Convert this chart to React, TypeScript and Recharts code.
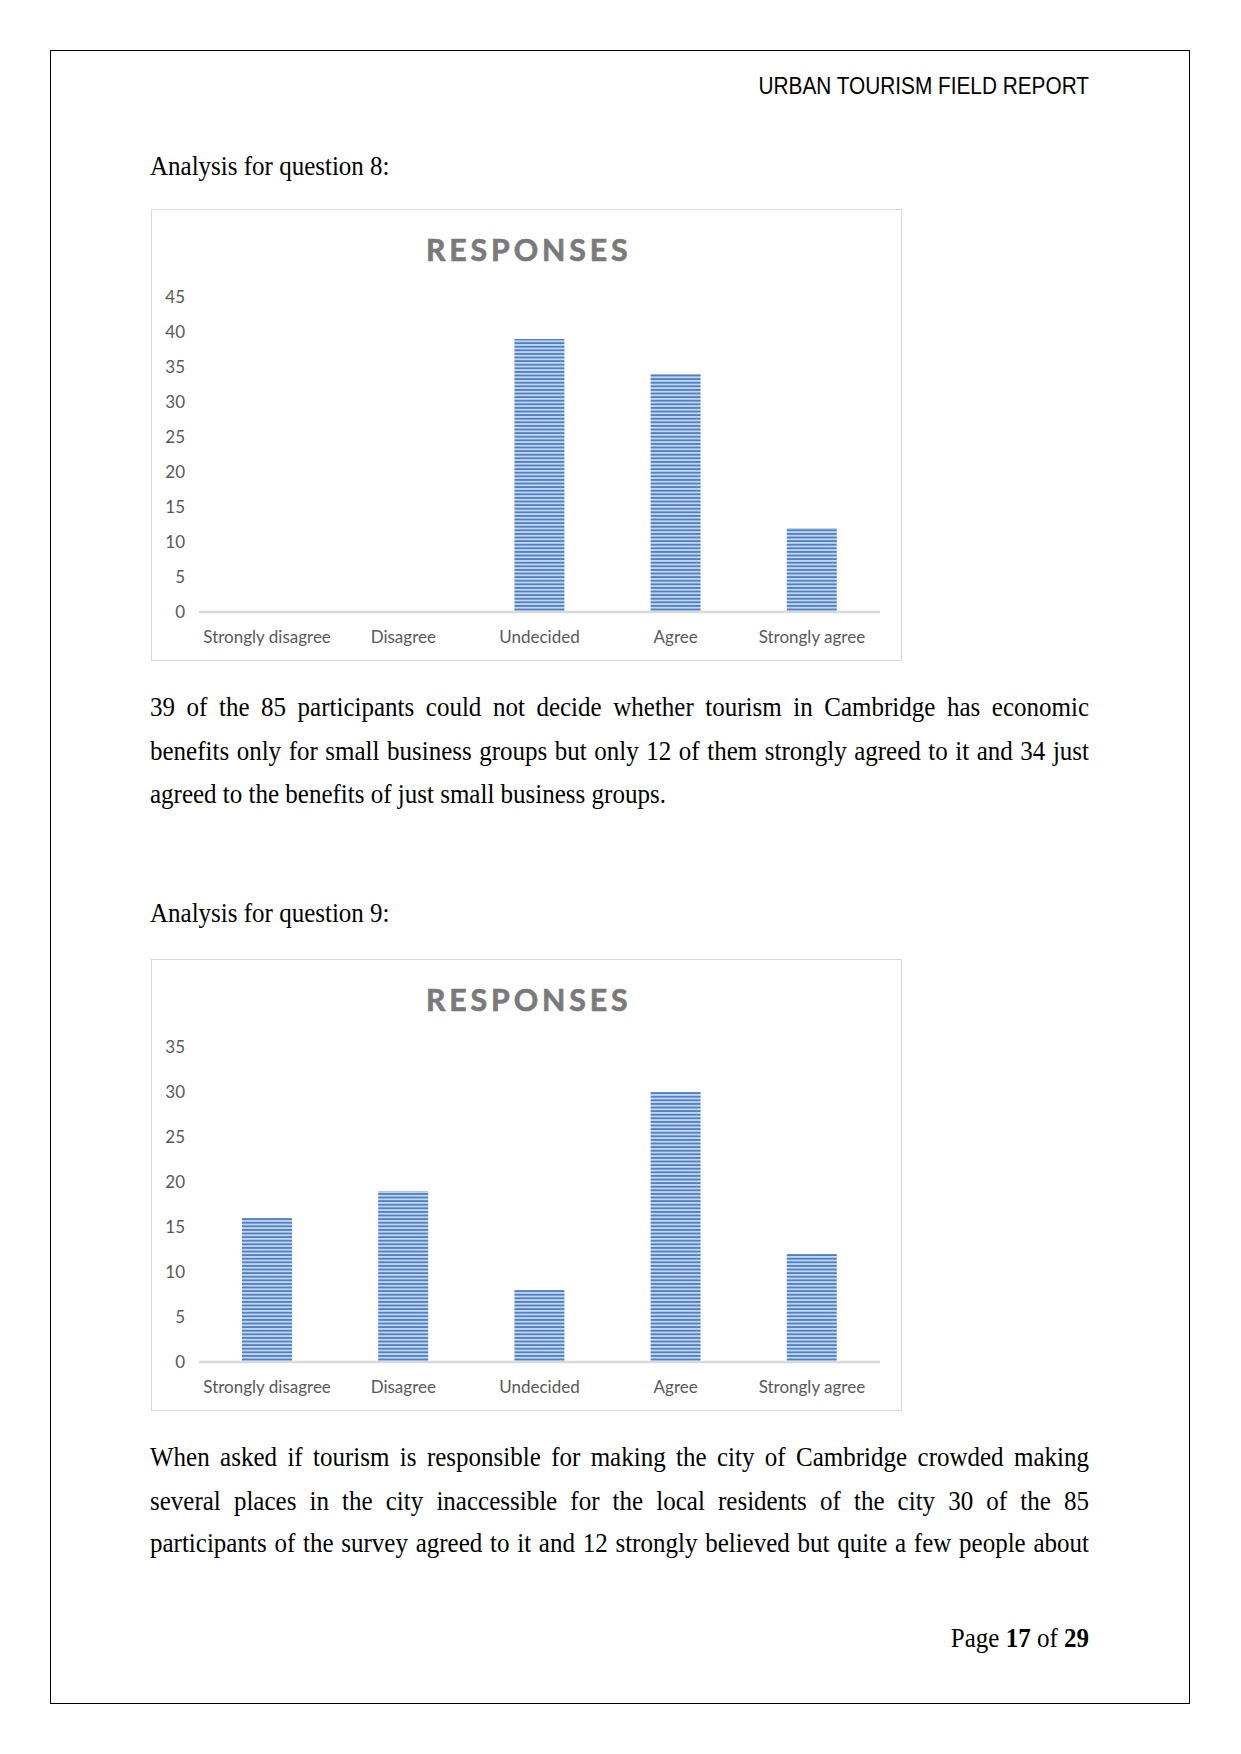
import React from 'react';
import { BarChart, Bar, XAxis, YAxis } from 'recharts';

const categories = ['Strongly disagree', 'Disagree', 'Undecided', 'Agree', 'Strongly agree'];
const q8Values = [0, 0, 39, 34, 12];
const q9Values = [16, 19, 8, 30, 12];
const q8Ticks = [0, 5, 10, 15, 20, 25, 30, 35, 40, 45];
const q9Ticks = [0, 5, 10, 15, 20, 25, 30, 35];

const para1 = [
  '39 of the 85 participants could not decide whether tourism in Cambridge has economic',
  'benefits only for small business groups but only 12 of them strongly agreed to it and 34 just',
  'agreed to the benefits of just small business groups.',
];
const para2 = [
  'When asked if tourism is responsible for making the city of Cambridge crowded making',
  'several places in the city inaccessible for the local residents of the city 30 of the 85',
  'participants of the survey agreed to it and 12 strongly believed but quite a few people about',
];

const serif = '"Liberation Serif", "Times New Roman", serif';
const chartFont = 'Lato, "Open Sans", sans-serif';

function Line({ top, text, justify }: { top: number; text: React.ReactNode; justify?: boolean }) {
  return (
    <div
      style={{
        position: 'absolute',
        left: 150,
        top,
        width: 939,
        height: 44,
        lineHeight: '44px',
        fontFamily: serif,
        fontSize: 25,
        color: '#000',
        whiteSpace: 'nowrap',
        textAlign: 'justify',
        textAlignLast: justify ? 'justify' : 'left',
        transform: 'scaleY(1.13)',
      }}
    >
      {text}
    </div>
  );
}

function ResponsesChart({ values, ticks, top, id }: { values: number[]; ticks: number[]; top: number; id: string }) {
  const data = categories.map((name, i) => ({ name, value: values[i] }));
  const max = ticks[ticks.length - 1];
  return (
    <div
      style={{
        position: 'absolute',
        left: 151,
        top,
        width: 751,
        height: 452,
        boxSizing: 'border-box',
        border: '1.5px solid #d9d9d9',
        background: '#fff',
      }}
    >
      <div
        style={{
          position: 'absolute',
          left: 0,
          top: 25,
          width: '100%',
          textAlign: 'center',
          fontFamily: chartFont,
          fontWeight: 700,
          fontSize: 27,
          lineHeight: '30px',
          letterSpacing: 3.5,
          color: '#7a7a7a',
          paddingLeft: 4,
          boxSizing: 'border-box',
          transform: 'scale(1.12, 1.1)',
          WebkitTextStroke: '0.6px #7a7a7a',
        }}
      >
        RESPONSES
      </div>
      <div style={{ position: 'absolute', left: -1.5, top: -1.5 }}>
        <BarChart
          width={751}
          height={452}
          data={data}
          margin={{ top: 88, right: 22, bottom: 0, left: 0 }}
          barSize={50}
          style={{ fontFamily: chartFont }}
        >
          <defs>
            <pattern id={id} patternUnits="userSpaceOnUse" width={8} height={3.6}>
              <rect x={0} y={0} width={8} height={3.6} fill="#c2d6f0" />
              <rect x={0} y={0} width={8} height={1.8} fill="#4f80c4" />
            </pattern>
          </defs>
          <XAxis
            dataKey="name"
            interval={0}
            tickLine={false}
            tickSize={0}
            tickMargin={19}
            height={49}
            axisLine={{ stroke: '#d9d9d9', strokeWidth: 2.5 }}
            tick={{ fill: '#595959', fontSize: 17, fontFamily: chartFont }}
          />
          <YAxis
            domain={[0, max]}
            ticks={ticks}
            interval={0}
            width={48}
            axisLine={false}
            tickLine={false}
            tickSize={0}
            tickMargin={14}
            tick={{ fill: '#595959', fontSize: 17, fontFamily: chartFont }}
          />
          <Bar dataKey="value" fill={`url(#${id})`} isAnimationActive={false} />
        </BarChart>
      </div>
    </div>
  );
}

export default function App() {
  return (
    <div style={{ position: 'absolute', left: 0, top: 0, width: 1241, height: 1754, background: '#fff' }}>
      <div
        style={{
          position: 'absolute',
          left: 50,
          top: 50,
          width: 1140,
          height: 1654,
          boxSizing: 'border-box',
          border: '1.5px solid #000',
        }}
      />
      <div
        style={{
          position: 'absolute',
          left: 150,
          top: 71,
          width: 939,
          lineHeight: '30px',
          textAlign: 'right',
          fontFamily: '"Liberation Sans", Arial, sans-serif',
          fontSize: 20.8,
          color: '#000',
          transform: 'scaleY(1.13)',
        }}
      >
        URBAN TOURISM FIELD REPORT
      </div>

      <Line top={144} text="Analysis for question 8:" />
      <ResponsesChart values={q8Values} ticks={q8Ticks} top={209} id="stripes8" />
      {para1.map((t, i) => (
        <Line key={t} top={[685, 729, 772][i]} text={t} justify={i < para1.length - 1} />
      ))}

      <Line top={891} text="Analysis for question 9:" />
      <ResponsesChart values={q9Values} ticks={q9Ticks} top={959} id="stripes9" />
      {para2.map((t, i) => (
        <Line key={t} top={[1435, 1479, 1521][i]} text={t} justify />
      ))}

      <div
        style={{
          position: 'absolute',
          left: 150,
          top: 1616,
          width: 939,
          lineHeight: '44px',
          textAlign: 'right',
          fontFamily: serif,
          fontSize: 25,
          transform: 'scaleY(1.13)',
        }}
      >
        Page <b>17</b> of <b>29</b>
      </div>
    </div>
  );
}
